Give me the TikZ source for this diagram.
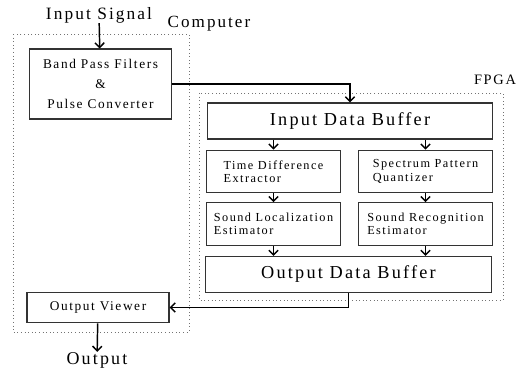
\documentclass[tikz,border=0pt]{standalone}
\usepackage{fontspec}
\setmainfont{Liberation Serif}[LetterSpace=12]
\usetikzlibrary{arrows.meta}

\begin{document}
\begin{tikzpicture}[x=0.75pt,y=-0.75pt,
    blk/.style={draw=black!80,line width=0.8pt,inner sep=0pt,align=left,
      minimum width=100pt,minimum height=32pt,font=\fontsize{9.2}{10}\selectfont},
    wide/.style={blk,minimum width=214pt,minimum height=27pt,font=\fontsize{13.7}{15}\selectfont},
    frame/.style={draw=black!55,dotted,line width=0.7pt},
    lbl/.style={inner sep=0pt,font=\fontsize{12.8}{14}\selectfont},
    link/.style={line width=1.1pt,-{Straight Barb[length=3.5pt,width=7pt]}}]
  \useasboundingbox (0,0) rectangle (528,370);
      % the two dotted frames
      \draw[frame] (13,34) rectangle (189,332);
      \draw[frame] (199,93) rectangle (503,300);
      \node[lbl] (comp) at (209,24) {Computer};
      \node[lbl,font=\fontsize{10.8}{12}\selectfont] (fpga) at (495,80) {FPGA};
      \node[lbl,font=\fontsize{13}{14}\selectfont] (sig) at (99,15) {Input Signal};
      \node[lbl,font=\fontsize{13.5}{14}\selectfont] (out) at (97,360) {Output};
      % computer side
      \node[blk,align=center,minimum width=107pt,minimum height=52.5pt,
        font=\fontsize{10}{15}\selectfont] (bpf) at (100.5,84) {Band Pass Filters\\\&\\Pulse Converter};
      \node[blk,align=center,minimum width=106.5pt,minimum height=23pt,
        font=\fontsize{10}{11}\selectfont] (ov) at (98,307.5) {Output Viewer};
      % fpga side
      \node[wide] (idb) at (350,121) {Input Data Buffer};
      \node[blk] (tde) at (273.5,171.5) {Time Difference\\Extractor};
      \node[blk] (spq) at (425.5,171.5) {Spectrum Pattern\\Quantizer};
      \node[blk] (sle) at (273.5,224) {Sound Localization\\Estimator};
      \node[blk] (sre) at (425.5,224) {Sound Recognition\\Estimator};
      \node[wide] (odb) at (348.5,274.5) {Output Data Buffer};
      % connectors
      \draw[link] (sig) -- (bpf);
      \draw[link] (bpf.east) -| (idb.north);
      \draw[link] (idb.south -| tde.north) -- (tde);
      \draw[link] (idb.south -| spq.north) -- (spq);
      \draw[link] (tde) -- (sle);
      \draw[link] (spq) -- (sre);
      \draw[link] (sle) -- (odb.north -| sle.south);
      \draw[link] (sre) -- (odb.north -| sre.south);
      \draw[link] (odb.south) |- (ov.east);
      \draw[link] (ov) -- (out);
    	\end{tikzpicture}
\end{document}
